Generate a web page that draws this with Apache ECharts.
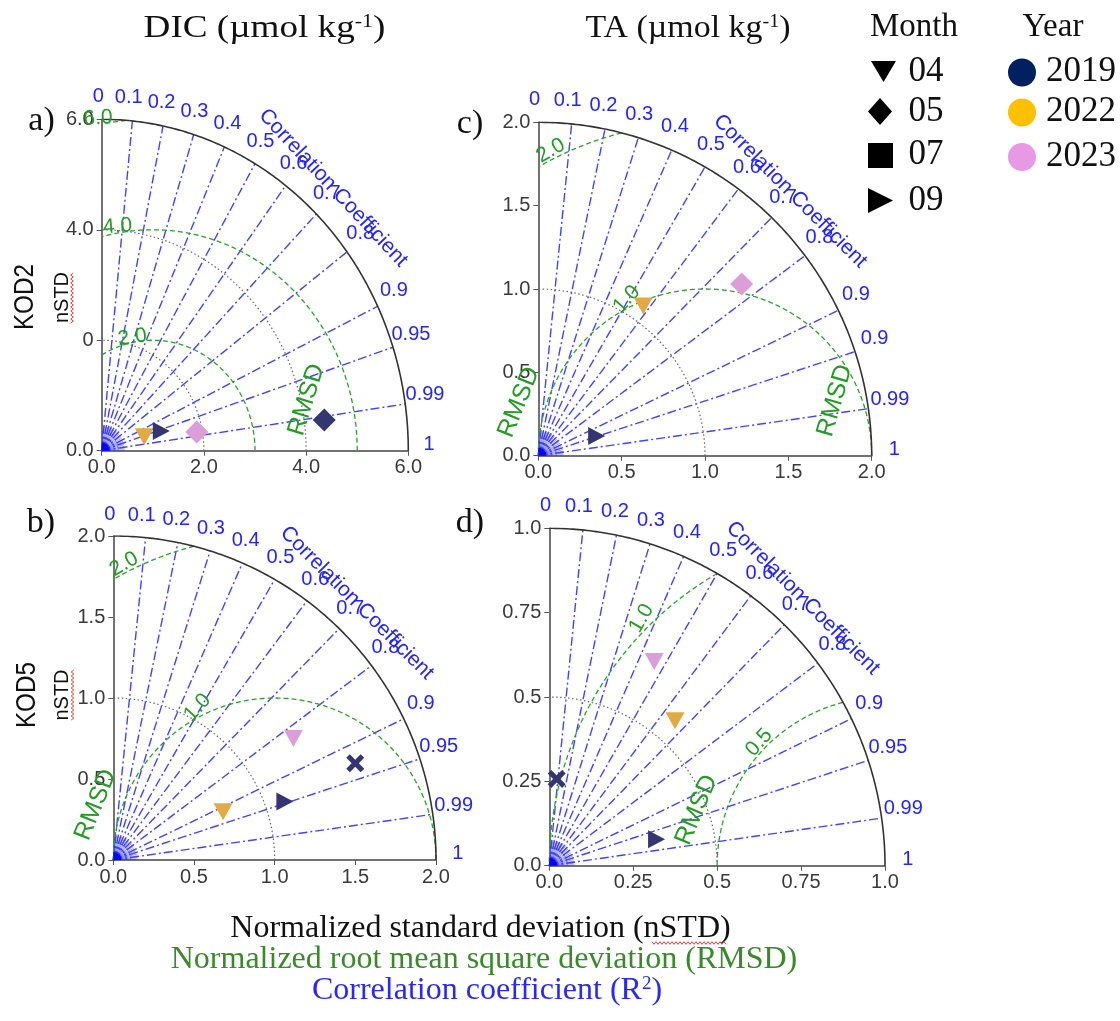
<!DOCTYPE html>
<html><head><meta charset="utf-8">
<script src="https://cdn.jsdelivr.net/npm/echarts@6/dist/echarts.min.js"></script>
<style>html,body{margin:0;padding:0;background:#fff}#c{width:1120px;height:1021px}</style>
</head><body><div id="c"></div><script>
// ---------------- data ----------------
const years = ['2019', '2022', '2023'];
const months = ['04', '05', '07', '09'];
const corrTicks = [0, 0.1, 0.2, 0.3, 0.4, 0.5, 0.6, 0.7, 0.8, 0.9, 0.95, 0.99, 1];
const corrTickLabels = ['0', '0.1', '0.2', '0.3', '0.4', '0.5', '0.6', '0.7', '0.8', '0.9', '0.95', '0.99', '1'];
const corrTickLabelsC = ['0', '0.1', '0.2', '0.3', '0.4', '0.5', '0.6', '0.7', '0.8', '0.9', '0.9', '0.99', '1'];

// a) DIC, KOD2
const aStd = [0.87, 1.22, 1.89, 4.39];
const aCorr = [0.957, 0.956, 0.984, 0.992];
const aMonth = ['04', '09', '05', '05'];
const aYear = ['2022', '2019', '2023', '2019'];
const aXTicks = ['0.0', '2.0', '4.0', '6.0'];
const aYTicks = ['0.0', '0', '4.0', '6.0'];
const aStdArcs = [2, 4];
const aRmsArcs = [2, 4, 6];
const aRmsLabels = ['2.0', '4.0', '6.0'];

// b) DIC, KOD5
const bStd = [0.743, 1.123, 1.345, 1.614];
const bCorr = [0.916, 0.947, 0.830, 0.929];
const bMonth = ['04', '09', '04', '07'];
const bYear = ['2022', '2019', '2023', '2019'];
const bXTicks = ['0.0', '0.5', '1.0', '1.5', '2.0'];
const bYTicks = ['0.0', '0.5', '1.0', '1.5', '2.0'];
const bStdArcs = [1];
const bRmsArcs = [1, 2];
const bRmsLabels = ['1.0', '2.0'];

// c) TA, KOD2
const cStd = [1.097, 1.597, 0.369];
const cCorr = [0.574, 0.764, 0.948];
const cMonth = ['04', '05', '09'];
const cYear = ['2022', '2023', '2019'];
const cXTicks = ['0.0', '0.5', '1.0', '1.5', '2.0'];
const cYTicks = ['0.0', '0.5', '1.0', '1.5', '2.0'];
const cStdArcs = [1];
const cRmsArcs = [1, 2];
const cRmsLabels = ['1.0', '2.0'];

// d) TA, KOD5
const dStd = [0.681, 0.570, 0.258, 0.329];
const dCorr = [0.459, 0.657, 0.085, 0.971];
const dMonth = ['04', '04', '07', '09'];
const dYear = ['2023', '2022', '2019', '2019'];
const dXTicks = ['0.0', '0.25', '0.5', '0.75', '1.0'];
const dYTicks = ['0.0', '0.25', '0.5', '0.75', '1.0'];
const dStdArcs = [0.5];
const dRmsArcs = [0.5, 1];
const dRmsLabels = ['0.5', '1.0'];

// ---------------- styles / layout ----------------
const plotColor = { '2019': '#34376f', '2022': '#e2aa45', '2023': '#dc9ed9' };
const legendColor = { '2019': '#002060', '2022': '#ffc000', '2023': '#e899e6' };
const monthSymbol = {
  '04': { symbol: 'triangle', rotate: 180, size: [19, 17] },
  '05': { symbol: 'diamond', rotate: 0, size: [23, 23] },
  '07': { symbol: 'path://M2,0L5,3L8,0L10,2L7,5L10,8L8,10L5,7L2,10L0,8L3,5L0,2Z', rotate: 0, size: [18, 18] },
  '09': { symbol: 'triangle', rotate: -90, size: [18, 17] }
};
const BLUE = '#2424ff', GREEN = '#259a25';
const SANS = '"Liberation Sans", Arial, sans-serif';
const SERIF = '"Liberation Serif", "Times New Roman", serif';

const panels = [
  { grid: { left: 101.7, top: 119.3, width: 306.6, height: 331.4 }, R: 6, step: 2,
    xTicks: aXTicks, yTicks: aYTicks, std: aStd, corr: aCorr, month: aMonth, year: aYear,
    stdArcs: aStdArcs, rmsArcs: aRmsArcs, rmsLabels: aRmsLabels, corrLabels: corrTickLabels,
    rmsLabelPos: [[0.60, 2.05, 8], [0.31, 4.06, 5], [-0.07, 6.02, 3]],
    rmsdPos: [[4.01, 0.92, 73]], ccRot: -47 },
  { grid: { left: 113.3, top: 536, width: 322.7, height: 324 }, R: 2, step: 0.5,
    xTicks: bXTicks, yTicks: bYTicks, std: bStd, corr: bCorr, month: bMonth, year: bYear,
    stdArcs: bStdArcs, rmsArcs: bRmsArcs, rmsLabels: bRmsLabels, corrLabels: corrTickLabels,
    rmsLabelPos: [[0.522, 0.941, 48], [0.067, 1.826, 30]],
    rmsdPos: [[-0.109, 0.34, 68]], ccRot: -45 },
  { grid: { left: 538.3, top: 122.3, width: 333.4, height: 333.4 }, R: 2, step: 0.5,
    xTicks: cXTicks, yTicks: cYTicks, std: cStd, corr: cCorr, month: cMonth, year: cYear,
    stdArcs: cStdArcs, rmsArcs: cRmsArcs, rmsLabels: cRmsLabels, corrLabels: corrTickLabelsC,
    rmsLabelPos: [[0.53, 0.939, 48], [0.075, 1.829, 30]],
    rmsdPos: [[-0.116, 0.32, 68], [1.78, 0.33, 74]], ccRot: -45 },
  { grid: { left: 549.3, top: 528.3, width: 335.7, height: 337.4 }, R: 1, step: 0.25,
    xTicks: dXTicks, yTicks: dYTicks, std: dStd, corr: dCorr, month: dMonth, year: dYear,
    stdArcs: dStdArcs, rmsArcs: dRmsArcs, rmsLabels: dRmsLabels, corrLabels: corrTickLabels,
    rmsLabelPos: [[0.625, 0.365, 48], [0.275, 0.733, 60]],
    rmsdPos: [[0.439, 0.165, 67]], ccRot: -45 }
];

// ---------------- geometry helpers ----------------
const DEG = Math.PI / 180;
function arcPts(r, a0, a1, n) {
  const pts = [];
  for (let k = 0; k <= n; k++) {
    const a = (a0 + (a1 - a0) * k / n) * DEG;
    pts.push([r * Math.cos(a), r * Math.sin(a)]);
  }
  return pts;
}
function rmsSegments(r, R) {
  const segs = []; let cur = [];
  for (let t = 0; t <= 180.0001; t += 0.25) {
    const x = 1 + r * Math.cos(t * DEG), y = r * Math.sin(t * DEG);
    if (x >= -1e-9 && y >= -1e-9 && x * x + y * y <= R * R * 1.0001) cur.push([x, y]);
    else { if (cur.length > 1) segs.push(cur); cur = []; }
  }
  if (cur.length > 1) segs.push(cur);
  return segs;
}

const grids = [], xAxes = [], yAxes = [], series = [];
panels.forEach((p, i) => {
  grids.push(Object.assign({ containLabel: false, outerBoundsMode: 'none' }, p.grid));
  const axisCommon = {
    gridIndex: i, type: 'value', min: 0, max: p.R, interval: p.step,
    splitLine: { show: false },
    axisLine: { show: true, onZero: false, lineStyle: { color: '#444', width: 1.5 } },
    axisTick: { show: true, length: 5, lineStyle: { color: '#555', width: 1 } }
  };
  xAxes.push(Object.assign({}, axisCommon, {
    axisLabel: { margin: 7, fontSize: 20, color: '#3a3a3a', fontFamily: SANS,
      formatter: v => p.xTicks[Math.round(v / p.step)] }
  }));
  yAxes.push(Object.assign({}, axisCommon, {
    axisLabel: { margin: 8, fontSize: 20, color: '#3a3a3a', fontFamily: SANS,
      formatter: v => p.yTicks[Math.round(v / p.step)] }
  }));
  const base = { xAxisIndex: i, yAxisIndex: i, silent: true, animation: false };
  const R = p.R;

  // correlation rays
  const rays = corrTicks.filter(c => c > 0 && c < 1).map(c => ({ coords: [[0, 0], [R * c, R * Math.sqrt(1 - c * c)]] }));
  series.push(Object.assign({ type: 'lines', coordinateSystem: 'cartesian2d', z: 3,
    lineStyle: { color: '#2f2fff', width: 1.4, opacity: 0.9, type: [9, 3, 2, 3] }, data: rays }, base));

  // near-origin fan
  const fan = [];
  for (let a = 2; a < 90; a += 4) fan.push({ coords: [[0, 0], [0.075 * R * Math.cos(a * DEG), 0.075 * R * Math.sin(a * DEG)]] });
  [0.015, 0.028, 0.041, 0.054].forEach(f => fan.push({ coords: arcPts(f * R, 0, 90, 24) }));
  series.push(Object.assign({ type: 'lines', coordinateSystem: 'cartesian2d', polyline: true, z: 3,
    lineStyle: { color: '#3535ff', width: 0.8, opacity: 0.6 }, data: fan }, base));
  series.push(Object.assign({ type: 'scatter', z: 4, clip: false,
    symbol: 'path://M0,10L10,10A10,10,0,0,0,0,0Z', symbolSize: 8, symbolOffset: [4, -4],
    itemStyle: { color: '#0808ee', opacity: 1 }, data: [[0, 0]] }, base));

  // standard-deviation grid arcs (gray dotted)
  series.push(Object.assign({ type: 'lines', coordinateSystem: 'cartesian2d', polyline: true, z: 3,
    lineStyle: { color: '#666', width: 1.2, opacity: 1, type: [1.5, 2.5] },
    data: p.stdArcs.map(r => ({ coords: arcPts(r, 0, 90, 120) })) }, base));

  // RMSD arcs (green dashed)
  const rmsData = [];
  p.rmsArcs.forEach(r => rmsSegments(r, R).forEach(s => rmsData.push({ coords: s })));
  series.push(Object.assign({ type: 'lines', coordinateSystem: 'cartesian2d', polyline: true, z: 3,
    lineStyle: { color: '#2ea02e', width: 1.3, opacity: 1, type: [5, 3] }, data: rmsData }, base));

  // outer arc
  series.push(Object.assign({ type: 'lines', coordinateSystem: 'cartesian2d', polyline: true, z: 4,
    lineStyle: { color: '#333', width: 1.6, opacity: 1, type: 'solid' },
    data: [{ coords: arcPts(R, 0, 90, 180) }] }, base));

  // text annotations
  const texts = [];
  corrTicks.forEach((c, k) => {
    const ang = Math.min(Math.acos(c) / DEG + 1, 90.6) * DEG, rr = 1.068 * R;
    texts.push({ name: p.corrLabels[k], value: [rr * Math.cos(ang), rr * Math.sin(ang)] });
  });
  const ca = 46.4 * DEG, cr = 1.095 * R;
  texts.push({ name: 'Correlation Coefficient', value: [cr * Math.cos(ca), cr * Math.sin(ca)],
    label: { rotate: p.ccRot, fontSize: 21 } });
  p.rmsLabels.forEach((t, k) => {
    const q = p.rmsLabelPos[k];
    texts.push({ name: t, value: [q[0], q[1]], label: { rotate: q[2], color: GREEN, fontSize: 21 } });
  });
  p.rmsdPos.forEach(q => texts.push({ name: 'RMSD', value: [q[0], q[1]], label: { rotate: q[2], color: GREEN, fontSize: 25 } }));
  series.push(Object.assign({ type: 'scatter', z: 6, clip: false, symbol: 'circle', symbolSize: 1,
    itemStyle: { color: 'rgba(0,0,0,0)', opacity: 1 },
    label: { show: true, position: 'inside', formatter: '{b}', fontFamily: SANS, fontSize: 20,
      color: BLUE, align: 'center', verticalAlign: 'middle' },
    data: texts }, base));

  // markers
  const marks = p.std.map((s, k) => {
    const c = p.corr[k], m = monthSymbol[p.month[k]];
    return { value: [s * c, s * Math.sqrt(1 - c * c)], symbol: m.symbol, symbolRotate: m.rotate,
      symbolSize: m.size, itemStyle: { color: plotColor[p.year[k]], opacity: 1 } };
  });
  series.push(Object.assign({ type: 'scatter', z: 8, clip: false, itemStyle: { opacity: 1 }, data: marks }, base));
});

// ---------------- static graphics ----------------
function txt(text, x, y, font, fill, extra) {
  return Object.assign({ type: 'text', x: x, y: y, z: 50, silent: true,
    style: { text: text, font: font, fill: fill, align: 'center', verticalAlign: 'middle' } }, extra || {});
}
function squiggle(x0, y0, len, vertical) {
  const pts = [];
  for (let s = 0; s <= len; s += 2) {
    const w = (Math.round(s / 2) % 2 === 0) ? -1.3 : 1.3;
    pts.push(vertical ? [x0 + w, y0 - s] : [x0 + s, y0 + w]);
  }
  return { type: 'polyline', z: 50, silent: true, shape: { points: pts }, style: { stroke: '#e43c3c', lineWidth: 1, fill: null } };
}
const supRich = { s: { fontSize: 19, fontFamily: SERIF, verticalAlign: 'top', fill: '#111' } };
const graphics = [
  txt('DIC (µmol kg{s|-1})', 264.5, 29, '32px ' + SERIF, '#111', { scaleX: 1.16 }),
  txt('TA (µmol kg{s|-1})', 688, 29, '32px ' + SERIF, '#111', { scaleX: 1.06 }),
  txt('Month', 914, 27, '33px ' + SERIF, '#111'),
  txt('Year', 1053, 27, '33px ' + SERIF, '#111'),
  txt('a)', 41.5, 121, '34px ' + SERIF, '#111'),
  txt('b)', 41, 523, '34px ' + SERIF, '#111'),
  txt('c)', 470, 124, '34px ' + SERIF, '#111'),
  txt('d)', 470, 523, '34px ' + SERIF, '#111'),
  txt('KOD2', 26, 297, '27px ' + SANS, '#111', { rotation: Math.PI / 2, scaleX: 0.9 }),
  txt('KOD5', 27.5, 695, '27px ' + SANS, '#111', { rotation: Math.PI / 2, scaleX: 0.9 }),
  txt('nSTD', 62, 297.5, '20px ' + SANS, '#111', { rotation: Math.PI / 2 }),
  txt('nSTD', 62, 695, '20px ' + SANS, '#111', { rotation: Math.PI / 2 }),
  squiggle(72, 323, 51, true),
  squiggle(72.5, 720, 50, true),
  txt('Normalized standard deviation (nSTD)', 480.5, 929, '32px ' + SERIF, '#111'),
  squiggle(652, 943, 74, false),
  txt('Normalized root mean square deviation (RMSD)', 484, 960, '32px ' + SERIF, '#3a8a2c'),
  txt('Correlation coefficient (R{b|2})', 487, 991, '32px ' + SERIF, '#2828ff'),
  // legend: month symbols
  { type: 'polygon', z: 50, silent: true, shape: { points: [[871, 61], [896, 61], [883.5, 82]] }, style: { fill: '#000' } },
  { type: 'polygon', z: 50, silent: true, shape: { points: [[880, 98], [892, 111.5], [880, 125], [868, 111.5]] }, style: { fill: '#000' } },
  { type: 'rect', z: 50, silent: true, shape: { x: 868, y: 143, width: 25, height: 25 }, style: { fill: '#000' } },
  { type: 'polygon', z: 50, silent: true, shape: { points: [[868, 188], [868, 213], [893, 200.5]] }, style: { fill: '#000' } }
];
const monthRowsY = [72, 112, 155, 200.5];
months.forEach((m, k) => graphics.push(txt(m, 926, monthRowsY[k], '35px ' + SERIF, '#111')));
const yearRowsY = [72.5, 112.5, 157];
years.forEach((y, k) => {
  graphics.push({ type: 'circle', z: 50, silent: true, shape: { cx: 1022, cy: yearRowsY[k], r: 14 }, style: { fill: legendColor[y] } });
  graphics.push(txt(y, 1081, yearRowsY[k] - 0.5, '35px ' + SERIF, '#111'));
});
// rich-text superscripts
graphics[0].style.rich = supRich;
graphics[1].style.rich = supRich;
graphics[17].style.rich = { b: { fontSize: 19, fontFamily: SERIF, verticalAlign: 'top', fill: '#2828ff' } };

const chart = echarts.init(document.getElementById('c'), null, { renderer: 'canvas' });
chart.setOption({
  animation: false,
  backgroundColor: '#fff',
  grid: grids, xAxis: xAxes, yAxis: yAxes, series: series,
  graphic: { elements: graphics }
});
</script></body></html>
